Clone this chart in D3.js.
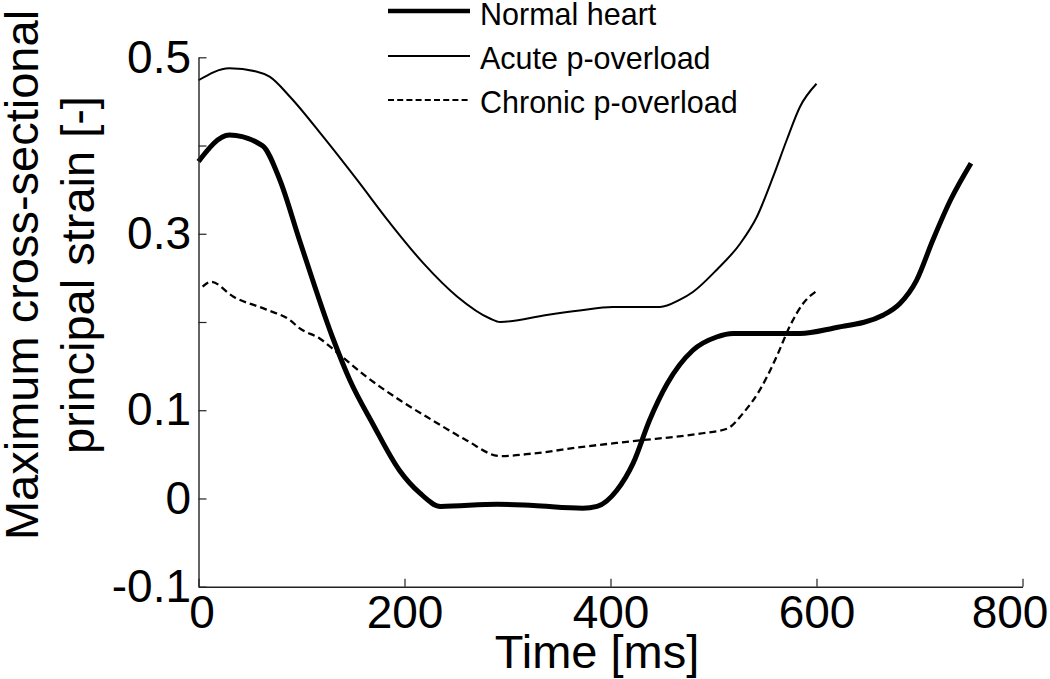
<!DOCTYPE html>
<html>
<head>
<meta charset="utf-8">
<script src="https://cdn.jsdelivr.net/npm/d3@7"></script>
<style>
  html, body { margin: 0; padding: 0; background: #fff; }
  svg { display: block; font-family: "Liberation Sans", Arial, Helvetica, sans-serif; }
</style>
</head>
<body>
<svg id="chart" width="1050" height="679"></svg>
<script>
// ---- data ----
const normalTime = [0, 30, 62, 79, 98, 130, 147, 169, 195, 215, 235, 290, 325, 373, 387, 406, 422, 438, 455, 480, 503, 519, 584, 616, 665, 681, 697, 713, 730, 750];
const normalStrain = [0.382, 0.412, 0.400, 0.361, 0.293, 0.183, 0.134, 0.085, 0.032, 0.006, -0.009, -0.0065, -0.008, -0.011, -0.009, 0.009, 0.040, 0.089, 0.130, 0.168, 0.183, 0.187, 0.187, 0.193, 0.208, 0.221, 0.247, 0.293, 0.338, 0.380];

const acuteTime = [0, 30, 56, 69, 89, 121, 154, 186, 218, 251, 283, 293, 338, 370, 402, 448, 467, 480, 503, 526, 542, 558, 571, 584, 600];
const acuteStrain = [0.474, 0.4875, 0.484, 0.478, 0.455, 0.410, 0.361, 0.312, 0.267, 0.229, 0.204, 0.200, 0.208, 0.213, 0.217, 0.217, 0.225, 0.234, 0.259, 0.289, 0.319, 0.365, 0.406, 0.444, 0.470];

const chronicTime = [4, 12, 34, 66, 89, 98, 118, 134, 163, 196, 228, 260, 293, 325, 373, 422, 487, 513, 529, 545, 561, 574, 587, 600];
const chronicStrain = [0.240, 0.2456, 0.2286, 0.214, 0.202, 0.193, 0.181, 0.166, 0.138, 0.111, 0.088, 0.066, 0.048, 0.051, 0.0585, 0.065, 0.0736, 0.079, 0.097, 0.123, 0.160, 0.195, 0.221, 0.235];

const seriesNames = ["Normal heart", "Acute p-overload", "Chronic p-overload"];
const xTicks = [0, 200, 400, 600, 800];
const xTickLabels = ["0", "200", "400", "600", "800"];
const yTicks = [-0.1, 0, 0.1, 0.2, 0.3, 0.4, 0.5];
const yTickLabels = ["-0.1", "0", "0.1", "", "0.3", "", "0.5"];
const xTitle = "Time [ms]";
const yTitleLines = ["Maximum cross-sectional", "principal strain [-]"];

// ---- layout ----
const svg = d3.select("#chart");
const x = d3.scaleLinear().domain([0, 800]).range([198.5, 1022.5]);
const y = d3.scaleLinear().domain([-0.1, 0.5]).range([586.7, 57.3]);
const ink = "#000";

const series = [
  { name: seriesNames[0], t: normalTime, v: normalStrain, width: 5, dash: null, legendWidth: 4.5 },
  { name: seriesNames[1], t: acuteTime, v: acuteStrain, width: 2, dash: null, legendWidth: 2 },
  { name: seriesNames[2], t: chronicTime, v: chronicStrain, width: 2.3, dash: "7,4", legendWidth: 2, legendDash: "6,3.2" }
];

const line = d3.line()
  .x(d => x(d[0]))
  .y(d => y(d[1]))
  .curve(d3.curveMonotoneX);

series.forEach(s => {
  const pts = s.t.map((t, i) => [t, s.v[i]]);
  svg.append("path")
    .attr("d", line(pts))
    .attr("fill", "none")
    .attr("stroke", ink)
    .attr("stroke-width", s.width)
    .attr("stroke-linejoin", "round")
    .attr("stroke-linecap", "butt")
    .attr("stroke-dasharray", s.dash);
});

// ---- axes ----
const xAxis = d3.axisBottom(x)
  .tickValues(xTicks)
  .tickFormat((d, i) => xTickLabels[i])
  .tickSizeInner(-8)
  .tickSizeOuter(0)
  .tickPadding(8.5);
const gx = svg.append("g").attr("transform", `translate(0,${y(-0.1)})`).call(xAxis);

const yAxis = d3.axisLeft(y)
  .tickValues(yTicks)
  .tickFormat((d, i) => yTickLabels[i])
  .tickSizeInner(-8)
  .tickSizeOuter(0)
  .tickPadding(7.5);
const gy = svg.append("g").attr("transform", `translate(${x(0)},0)`).call(yAxis);

[gx, gy].forEach(g => {
  g.select(".domain").attr("stroke", "#222").attr("stroke-width", 1.4);
  g.selectAll(".tick line").attr("stroke", "#222").attr("stroke-width", 1.2);
  g.selectAll(".tick text")
    .attr("fill", ink)
    .style("font-size", "46px")
    .style("font-family", "'Liberation Sans', Arial, sans-serif");
});
// first and last x labels sit slightly inside, as in the reference
gx.selectAll(".tick text").attr("dx", d => d === 0 ? 3 : (d === 800 ? -13 : 0));

// ---- titles ----
svg.append("text")
  .attr("x", 597)
  .attr("y", 668)
  .attr("text-anchor", "middle")
  .style("font-size", "47px")
  .attr("fill", ink)
  .text(xTitle);

const yt = svg.append("text")
  .attr("transform", "translate(38,275) rotate(-90)")
  .attr("text-anchor", "middle")
  .style("font-size", "47px")
  .attr("fill", ink);
yTitleLines.forEach((ln, i) => {
  yt.append("tspan").attr("x", 0).attr("y", i * 56).text(ln);
});

// ---- legend ----
const legendLineY = [11, 56, 100];
const legendTextY = [25, 69, 113];
const legend = svg.append("g");
series.forEach((s, i) => {
  legend.append("line")
    .attr("x1", 388).attr("x2", 470)
    .attr("y1", legendLineY[i]).attr("y2", legendLineY[i])
    .attr("stroke", ink)
    .attr("stroke-width", s.legendWidth)
    .attr("stroke-dasharray", s.legendDash || null);
  legend.append("text")
    .attr("x", 480)
    .attr("y", legendTextY[i])
    .style("font-size", "30.5px")
    .attr("fill", ink)
    .text(s.name);
});
</script>
</body>
</html>
